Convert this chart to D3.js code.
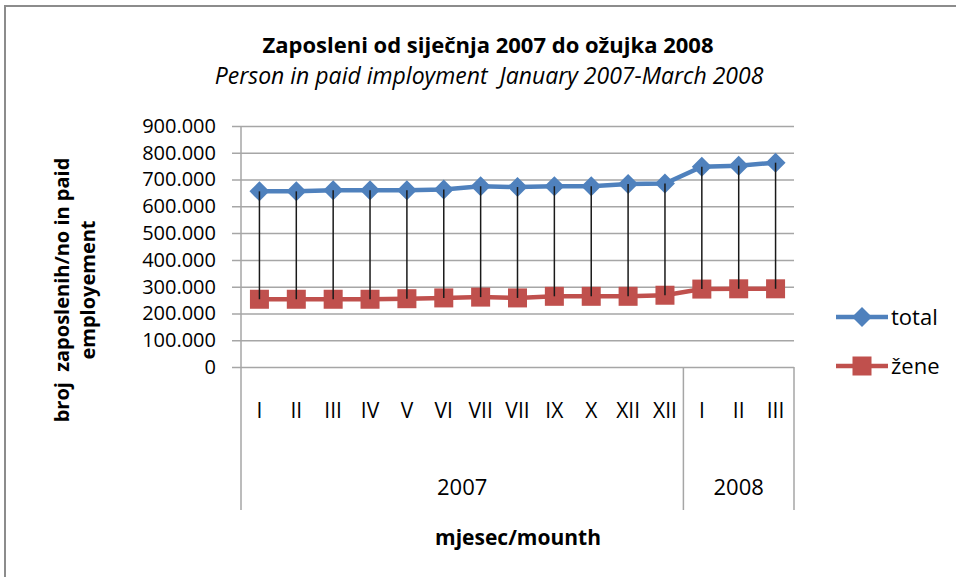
<!DOCTYPE html>
<html>
<head>
<meta charset="utf-8">
<script src="https://cdn.jsdelivr.net/npm/d3@7"></script>
<style>
  body { margin: 0; background: #fff; }
  text { font-family: "Open Sans", Lato, sans-serif; fill: #000; white-space: pre; }
</style>
</head>
<body>
<svg id="chart" width="956" height="577"></svg>
<script>
// data (thousands of persons)
var months = ['I','II','III','IV','V','VI','VII','VII','IX','X','XII','XII','I','II','III'];
var years = [{name: '2007', count: 12}, {name: '2008', count: 3}];
var total = [656, 656, 660, 660, 660, 663, 675, 672, 675, 675, 683, 685, 748, 752, 763];
var zene = [253, 253, 253, 253, 255, 258, 261, 258, 264, 264, 264, 268, 291, 292, 292];
var yTicks = [0, 100, 200, 300, 400, 500, 600, 700, 800, 900];

var svg = d3.select('#chart');

// outer frame
svg.append('rect')
    .attr('x', 5).attr('y', 6)
    .attr('width', 1000).attr('height', 600)
    .attr('fill', 'none')
    .attr('stroke', '#8c8c8c')
    .attr('stroke-width', 2);

var plot = {left: 241, right: 794, top: 126, bottom: 367};

var xScale = d3.scaleBand()
    .domain(d3.range(months.length))
    .range([plot.left, plot.right]);

var yScale = d3.scaleLinear()
    .domain([0, 900])
    .range([plot.bottom, plot.top]);

var cx = i => xScale(i) + xScale.bandwidth() / 2;

// gridlines + y axis ticks (ticks stick out 9px left of the axis)
var yAxis = d3.axisLeft(yScale)
    .tickValues(yTicks)
    .tickSize(-(plot.right - plot.left + 9))
    .tickFormat(d => d === 0 ? '0' : d + '.000');

var yG = svg.append('g')
    .attr('transform', `translate(${plot.left - 9},0)`)
    .call(yAxis);
yG.select('.domain').remove();
yG.selectAll('.tick line')
    .attr('stroke', '#a6a6a6')
    .attr('stroke-width', 1.5);
yG.selectAll('.tick text')
    .attr('x', -16)
    .attr('font-size', '20px')
    .attr('font-family', '"Open Sans", sans-serif');

// axis lines
svg.append('line')
    .attr('x1', plot.left).attr('x2', plot.left)
    .attr('y1', plot.top).attr('y2', 510)
    .attr('stroke', '#a6a6a6').attr('stroke-width', 1.5);

var yearEdges = [0];
years.forEach(y => yearEdges.push(yearEdges[yearEdges.length - 1] + y.count));
yearEdges.slice(1).forEach(function(e) {
    var x = xScale(e - 1) + xScale.bandwidth();
    svg.append('line')
        .attr('x1', x).attr('x2', x)
        .attr('y1', plot.bottom).attr('y2', 510)
        .attr('stroke', '#a6a6a6').attr('stroke-width', 1.5);
});

// month labels
svg.append('g').selectAll('text')
    .data(months)
    .enter()
    .append('text')
    .attr('x', (d, i) => cx(i))
    .attr('y', 418)
    .attr('text-anchor', 'middle')
    .attr('font-size', '21px')
    .text(d => d);

// year labels
svg.append('g').selectAll('text')
    .data(years)
    .enter()
    .append('text')
    .attr('x', (d, i) => (xScale(yearEdges[i]) + xScale(yearEdges[i + 1] - 1) + xScale.bandwidth()) / 2)
    .attr('y', 495)
    .attr('text-anchor', 'middle')
    .attr('font-size', '22px')
    .text(d => d.name);

// series lines + markers
var line = d3.line().x((d, i) => cx(i)).y(d => yScale(d));

svg.append('path')
    .datum(total)
    .attr('d', line)
    .attr('fill', 'none')
    .attr('stroke', '#4f81bd')
    .attr('stroke-width', 4.5);

svg.append('path')
    .datum(zene)
    .attr('d', line)
    .attr('fill', 'none')
    .attr('stroke', '#c0504d')
    .attr('stroke-width', 4.5);

var diamond = 'M0,-10L10,0L0,10L-10,0Z';

svg.append('g').selectAll('path')
    .data(total)
    .enter()
    .append('path')
    .attr('d', diamond)
    .attr('transform', (d, i) => `translate(${cx(i)},${yScale(d)})`)
    .attr('fill', '#4f81bd');

svg.append('g').selectAll('rect')
    .data(zene)
    .enter()
    .append('rect')
    .attr('x', (d, i) => cx(i) - 9.5)
    .attr('y', d => yScale(d) - 9.5)
    .attr('width', 19).attr('height', 19)
    .attr('fill', '#c0504d');

// high-low lines
svg.append('g').selectAll('line')
    .data(total)
    .enter()
    .append('line')
    .attr('x1', (d, i) => cx(i)).attr('x2', (d, i) => cx(i))
    .attr('y1', d => yScale(d))
    .attr('y2', (d, i) => yScale(zene[i]))
    .attr('stroke', '#1a1a1a')
    .attr('stroke-width', 1.5);

// titles
svg.append('text')
    .attr('x', 488).attr('y', 53)
    .attr('text-anchor', 'middle')
    .attr('font-size', '22px')
    .attr('font-weight', 'bold')
    .text('Zaposleni od siječnja 2007 do ožujka 2008');

svg.append('text')
    .attr('x', 489).attr('y', 84)
    .attr('text-anchor', 'middle')
    .attr('font-size', '23px')
    .attr('font-style', 'italic')
    .text('Person in paid imployment  January 2007-March 2008');

var yTitle = svg.append('text')
    .attr('transform', 'translate(0,290) rotate(-90)')
    .attr('text-anchor', 'middle')
    .attr('font-size', '20px')
    .attr('font-weight', 'bold');
yTitle.append('tspan').attr('x', 0).attr('y', 69).text('broj  zaposlenih/no in paid');
yTitle.append('tspan').attr('x', 0).attr('y', 95).text('employement');

svg.append('text')
    .attr('x', 518).attr('y', 545)
    .attr('text-anchor', 'middle')
    .attr('font-size', '21px')
    .attr('font-weight', 'bold')
    .text('mjesec/mounth');

// legend
var legend = [{name: 'total', color: '#4f81bd', y: 317}, {name: 'žene', color: '#c0504d', y: 366}];
var lg = svg.append('g').selectAll('g').data(legend).enter().append('g');
lg.append('line')
    .attr('x1', 836).attr('x2', 888)
    .attr('y1', d => d.y).attr('y2', d => d.y)
    .attr('stroke', d => d.color).attr('stroke-width', 4.5);
lg.filter((d, i) => i === 0).append('path')
    .attr('d', diamond)
    .attr('transform', d => `translate(862,${d.y})`)
    .attr('fill', d => d.color);
lg.filter((d, i) => i === 1).append('rect')
    .attr('x', 852.5).attr('y', d => d.y - 9.5)
    .attr('width', 19).attr('height', 19)
    .attr('fill', d => d.color);
lg.append('text')
    .attr('x', 891).attr('y', d => d.y + 8)
    .attr('font-size', '22px')
    .text(d => d.name);
</script>
</body>
</html>
